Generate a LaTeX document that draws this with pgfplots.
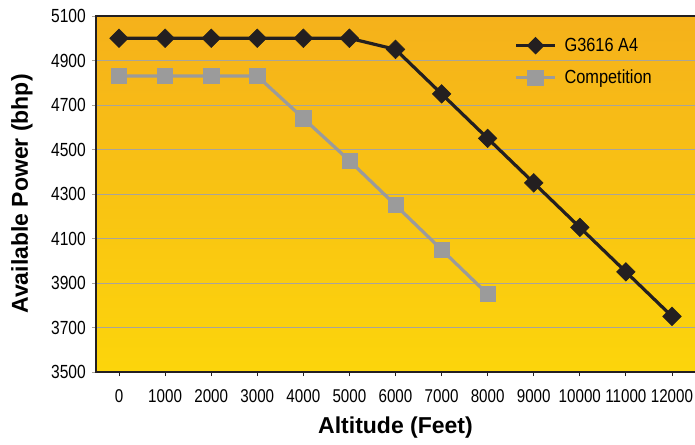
\documentclass[border=0pt]{standalone}
\usepackage{fontspec}
\setmainfont{Liberation Sans}[FakeStretch=0.82]
\newfontfamily\legfont{Liberation Sans}[FakeStretch=0.86]
\newfontfamily\labfont{Liberation Sans}
\usepackage{pgfplots}
\pgfplotsset{compat=1.18}

\definecolor{topyel}{HTML}{F5B11B}
\definecolor{botyel}{HTML}{FCD50B}
\definecolor{gline}{HTML}{231F20}
\definecolor{cline}{HTML}{9B9B9B}
\definecolor{gridc}{HTML}{A9A49A}

\begin{document}
\begin{tikzpicture}
\useasboundingbox (-96pt,-72pt) rectangle (599pt,372pt);
\begin{axis}[
    name=ax,
    at={(0,0)}, anchor=south west,
    scale only axis,
    width=599pt, height=356pt,
    xmin=-0.5, xmax=12.5,
    ymin=3500, ymax=5100,
    ytick={3500,3700,...,5100},
    xtick={0,...,12},
    xticklabels={0,1000,2000,3000,4000,5000,6000,7000,8000,9000,10000,11000,12000},
    /pgf/number format/assume math mode=true,
    /pgf/number format/.cd, 1000 sep={}, /pgfplots/.cd,
    ymajorgrids,
    grid style={gridc, line width=0.9pt},
    axis line style={draw=none},
    tick align=outside,
    xtick pos=bottom, ytick pos=left,
    major tick length=4pt,
    xtick style={gline, line width=0.8pt},
    ytick style={gridc, line width=0.9pt},
    xticklabel style={font=\fontsize{18.5}{18.5}\selectfont, anchor=center, yshift=-20pt},
    yticklabel style={font=\fontsize{19}{19}\selectfont, anchor=east, inner sep=0pt, xshift=-6pt},
    xlabel={Altitude (Feet)},
    ylabel={Available Power (bhp)},
    xlabel style={font=\labfont\bfseries\fontsize{23}{23}\selectfont, at={(axis description cs:0.5,0)}, anchor=center, yshift=-56pt},
    ylabel style={font=\labfont\bfseries\fontsize{23}{23}\selectfont, at={(axis description cs:0,0.5)}, anchor=center, yshift=74pt},
    axis background/.style={shade, top color=topyel, bottom color=botyel},
    legend style={draw=none, fill=none, at={(axis cs:8.58,5004)}, anchor=north west,
        font=\legfont\fontsize{19}{19}\selectfont, row sep=16pt, inner sep=0pt,
        nodes={inner xsep=8pt, inner ysep=0pt}},
    legend cell align=left,
]
\addplot[gline, line width=3.2pt, mark=square*, mark size=6.6pt,
    mark options={rotate=45, line width=0.5pt, fill=gline, draw=gline},
    legend image code/.code={
        \draw[gline, line width=3pt] (0pt,0pt) -- (39pt,0pt);
        \fill[gline] (19.5pt,6.5pt) -- (26pt,0pt) -- (19.5pt,-6.5pt) -- (13pt,0pt) -- cycle;
    }] coordinates {
    (0,5000) (1,5000) (2,5000) (3,5000) (4,5000) (5,5000) (6,4950)
    (7,4750) (8,4550) (9,4350) (10,4150) (11,3950) (12,3750)
};
\addlegendentry{G3616 A4}
\addplot[cline, line width=3.2pt, mark=square*, mark size=7.6pt,
    mark options={line width=0.5pt, fill=cline, draw=cline},
    legend image code/.code={
        \draw[cline, line width=3pt] (0pt,0pt) -- (39pt,0pt);
        \fill[cline] (13pt,-6.5pt) rectangle (26pt,6.5pt);
    }] coordinates {
    (0,4830) (1,4830) (2,4830) (3,4830) (4,4640) (5,4450) (6,4250)
    (7,4050) (8,3850)
};
\addlegendentry{Competition}
\end{axis}
\draw[gline, line width=1.6pt] (ax.north east) -- (ax.north west) -- (ax.south west) -- (ax.south east);
\end{tikzpicture}
\end{document}
